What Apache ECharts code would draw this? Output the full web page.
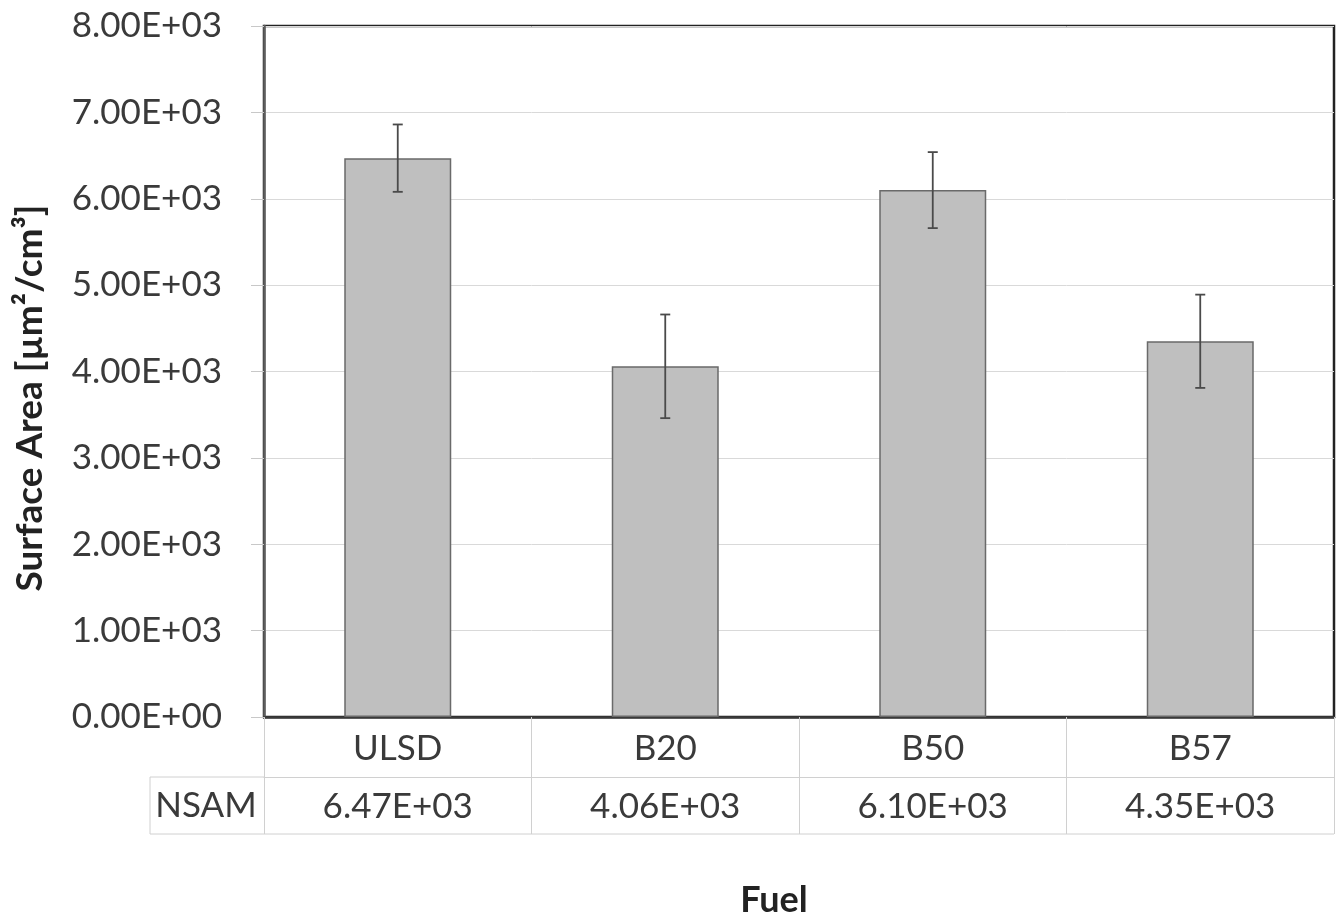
<!DOCTYPE html>
<html>
<head>
<meta charset="utf-8">
<script src="https://cdn.jsdelivr.net/npm/echarts@6/dist/echarts.min.js"></script>
<style>html,body{margin:0;padding:0;background:#fff}#c{width:1342px;height:919px}</style>
</head>
<body>
<div id="c"></div>
<script>
const categories = ['ULSD', 'B20', 'B50', 'B57'];
const nsamValues = [6470, 4060, 6100, 4350];
const errorValues = [390, 600, 440, 540];
const yTicks = { min: 0, max: 8000, interval: 1000 };
const rowLabel = 'NSAM';
const yTitle = 'Surface Area [µm²/cm³]';
const xTitle = 'Fuel';

function sci(v) {
  if (v === 0) return '0.00E+00';
  const e = Math.floor(Math.log10(Math.abs(v)));
  const m = v / Math.pow(10, e);
  return m.toFixed(2) + 'E' + (e >= 0 ? '+' : '-') + String(Math.abs(e)).padStart(2, '0');
}

const FONT = 'Lato';
const FS = 35;
const chart = echarts.init(document.getElementById('c'));
const gridLeft = 264, gridRight = 8, gridTop = 26, gridBottom = 202;
const axisY = 919 - gridBottom; // 717
chart.setOption({
  animation: false,
  textStyle: { fontFamily: FONT },
  grid: { left: gridLeft, right: gridRight, top: gridTop, bottom: gridBottom, show: true, borderColor: '#222', borderWidth: 2.5, backgroundColor: 'transparent' },
  xAxis: [
    {
      type: 'category', data: categories, position: 'bottom',
      axisLine: { show: true, lineStyle: { color: '#3a3a3a', width: 2.5 } },
      axisTick: { show: true, length: 60, lineStyle: { color: '#d0d0d0', width: 1 } },
      axisLabel: { margin: 14, fontSize: FS, color: '#3a3a3a', fontFamily: FONT },
      splitLine: { show: false }
    },
    {
      type: 'category', data: nsamValues.map(sci), position: 'bottom', offset: 60,
      axisLine: { show: true, lineStyle: { color: '#d0d0d0', width: 1 } },
      axisTick: { show: true, length: 57, lineStyle: { color: '#d0d0d0', width: 1 } },
      axisLabel: { margin: 12, fontSize: FS, color: '#3a3a3a', fontFamily: FONT },
      splitLine: { show: false }
    }
  ],
  yAxis: {
    type: 'value', min: yTicks.min, max: yTicks.max, interval: yTicks.interval,
    axisLine: { show: true, lineStyle: { color: '#5e5e5e', width: 2.5 } },
    axisTick: { show: true, length: 13, lineStyle: { color: '#c8c8c8', width: 1 } },
    axisLabel: { margin: 42, fontSize: FS, color: '#3a3a3a', fontFamily: FONT, formatter: v => sci(v) },
    splitLine: { show: true, lineStyle: { color: '#d9d9d9', width: 1 } }
  },
  series: [
    {
      type: 'bar', data: nsamValues, barWidth: '40%', xAxisIndex: 0,
      itemStyle: { color: '#bfbfbf', borderColor: '#6a6a6a', borderWidth: 1.5 },
      z: 2
    },
    {
      type: 'custom', xAxisIndex: 0, z: 3,
      data: nsamValues.map((v, i) => [i, v - errorValues[i], v + errorValues[i]]),
      renderItem: function (params, api) {
        const lo = api.coord([api.value(0), api.value(1)]);
        const hi = api.coord([api.value(0), api.value(2)]);
        const hw = 5;
        const style = { stroke: '#4a4a4a', lineWidth: 1.8 };
        return {
          type: 'group', children: [
            { type: 'line', shape: { x1: hi[0], y1: hi[1], x2: lo[0], y2: lo[1] }, style },
            { type: 'line', shape: { x1: hi[0] - hw, y1: hi[1], x2: hi[0] + hw, y2: hi[1] }, style },
            { type: 'line', shape: { x1: lo[0] - hw, y1: lo[1], x2: lo[0] + hw, y2: lo[1] }, style }
          ]
        };
      }
    }
  ],
  graphic: [
    { type: 'line', shape: { x1: 150, y1: axisY + 60, x2: gridLeft, y2: axisY + 60 }, style: { stroke: '#d0d0d0', lineWidth: 1 } },
    { type: 'line', shape: { x1: 150, y1: axisY + 117, x2: 1342 - gridRight, y2: axisY + 117 }, style: { stroke: '#d0d0d0', lineWidth: 1 } },
    { type: 'line', shape: { x1: 150, y1: axisY + 60, x2: 150, y2: axisY + 117 }, style: { stroke: '#d0d0d0', lineWidth: 1 } },
    { type: 'text', x: 206, y: axisY + 89, style: { text: rowLabel, font: FS + 'px ' + FONT, fill: '#3a3a3a', align: 'center', verticalAlign: 'middle' } },
    { type: 'text', x: 774, y: 900, style: { text: xTitle, font: 'bold 36px ' + FONT, fill: '#222', align: 'center', verticalAlign: 'middle' } },
    { type: 'text', x: 30, y: 398, rotation: Math.PI / 2, style: { text: yTitle, font: 'bold 37px ' + FONT, fill: '#222', align: 'center', verticalAlign: 'middle' } }
  ]
});
</script>
</body>
</html>
